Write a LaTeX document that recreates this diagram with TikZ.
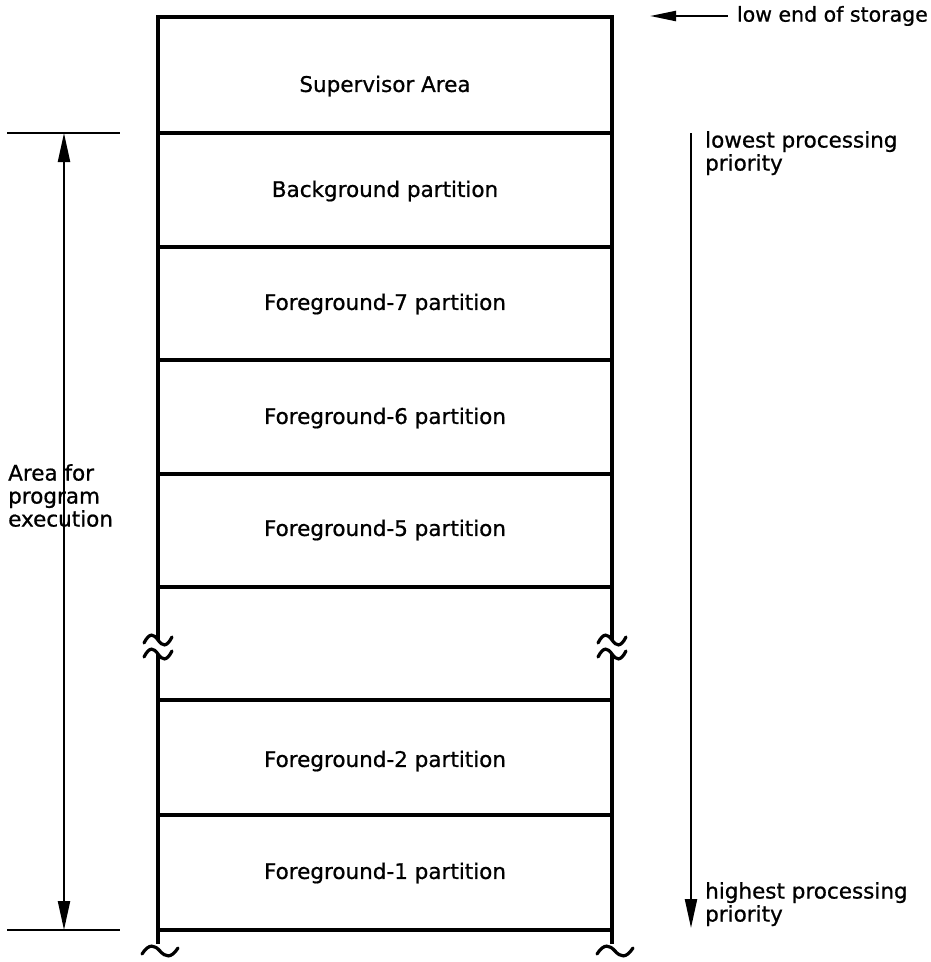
\documentclass[tikz,border=0pt]{standalone}
\usepackage{fontspec}
\setmainfont{DejaVu Sans}[FakeBold=0.8]
\usetikzlibrary{arrows.meta}
\begin{document}
\begin{tikzpicture}[x=1pt,y=-1pt,
  rule/.style={line width=3.2pt},
  thinrule/.style={line width=2.6pt},
  lbl/.style={font=\fontsize{21.5}{23}\selectfont, inner sep=0pt},
  side/.style={lbl, align=left, anchor=north west},
  head/.tip={Triangle[length=29pt,width=12pt]},
  tip/.style={-head},
  tildemark/.style={line width=3.2pt, line cap=round}]
\useasboundingbox (0,0) rectangle (931,962);

% storage column
\draw[rule] (158,640) -- (158,17) -- (612,17) -- (612,640);
\draw[rule] (158,654) -- (158,944);
\draw[rule] (612,654) -- (612,944);
\foreach \y in {133,247,360,474,587,700,815,930}
  \draw[rule] (158,\y) -- (612,\y);

% break marks: centre x / centre y / half width
\foreach \cx/\cy/\w in {158/640/14,158/654/14,612/640/14,612/654/14,160/951/18,615/951/18}
  \draw[tildemark] (\cx-\w,\cy+3) .. controls (\cx-0.6*\w,\cy-8) and (\cx-0.3*\w,\cy-6) .. (\cx,\cy)
     .. controls (\cx+0.3*\w,\cy+6) and (\cx+0.6*\w,\cy+8) .. (\cx+\w,\cy-3);

% area labels
\node[lbl] (sup) at (385,86) {Supervisor Area};
\node[lbl] (bg)  at (385,191) {Background partition};
\node[lbl] (f7)  at (385,304) {Foreground-7 partition};
\node[lbl] (f6)  at (385,418) {Foreground-6 partition};
\node[lbl] (f5)  at (385,530) {Foreground-5 partition};
\node[lbl] (f2)  at (385,761) {Foreground-2 partition};
\node[lbl] (f1)  at (385,873) {Foreground-1 partition};

% program execution span
\coordinate (exTop) at (64,133);
\coordinate (exBot) at (64,930);
\draw[thinrule] (7,133) -- (120,133);
\draw[thinrule] (7,930) -- (120,930);
\draw[line width=2.2pt, head-head] (exTop) -- (exBot);
\node[side] (area) at (8,464) {Area for\\program\\execution};

% processing priority
\coordinate (prTop) at (691,133);
\coordinate (prBot) at (691,928);
\draw[line width=2.2pt, tip] (prTop) -- (prBot);
\node[side] (low) at (705,131) {lowest processing\\priority};
\node[side] (high) at (705,882) {highest processing\\priority};

% low end of storage
\node[lbl, font=\fontsize{20.5}{23}\selectfont, anchor=east] (lowend) at (928,16) {low end of storage};
\coordinate (leTip) at (650,16);
\draw[line width=2.2pt, -{Triangle[length=26pt,width=10pt]}] (lowend.west) ++(-9,0) -- (leTip);
\end{tikzpicture}
\end{document}
